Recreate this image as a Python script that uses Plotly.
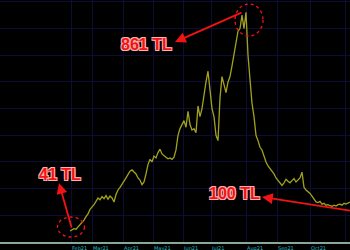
import plotly.graph_objects as go

# x positions (chart time index) and price values (TL)
x_start = 70
x_step = 2
prices = [41, 44, 50, 48, 56, 62, 70, 82, 95, 105,
          122, 130, 140, 152, 165, 158, 170, 162, 174, 160,
          172, 165, 150, 178, 195, 205, 215, 228, 240, 252,
          265, 270, 262, 255, 240, 232, 215, 225, 255, 290,
          310, 300, 322, 315, 335, 348, 330, 322, 318, 312,
          315, 310, 318, 345, 400, 425, 440, 455, 430, 490,
          440, 420, 425, 410, 510, 470, 500, 560, 600, 640,
          560, 500, 470, 400, 380, 540, 620, 590, 560, 600,
          620, 660, 700, 740, 790, 800, 850, 800, 861, 700,
          600, 520, 470, 400, 380, 355, 345, 320, 300, 285,
          275, 268, 255, 240, 232, 220, 212, 222, 235, 228,
          222, 230, 238, 225, 232, 240, 262, 205, 195, 190,
          182, 172, 160, 150, 148, 152, 142, 145, 138, 140,
          136, 134, 138, 135, 140, 142, 138, 145, 142, 146, 150]
xs = [x_start + i * x_step for i in range(len(prices))]

tick_vals = [71, 92, 123, 153, 183, 211, 246, 277, 310, 345]
tick_text = ["Feb21", "Mar21", "Apr21", "May21", "Jun21", "Jul21",
             "Aug21", "Sep21", "Oct21", "Nov21"]

labels = ["41 TL", "861 TL", "100 TL"]

Y_MAX = 907
PLOT_H = 242


def py(pix):
    return (PLOT_H - pix) * Y_MAX / PLOT_H


fig = go.Figure()
fig.add_trace(go.Scatter(x=xs, y=prices, mode="lines",
                         line=dict(color="#a2a21e", width=1.3),
                         hoverinfo="skip"))

red = "#f01414"
shadow = "1px 1px 0 #ffb0b0, -1px -1px 0 #ffb0b0, 1px -1px 0 #ffb0b0, -1px 1px 0 #ffb0b0"
font = dict(family="Liberation Sans, Arial", size=16, color=red, weight="bold", shadow=shadow)

anns = []
for txt, tx, ty in [(labels[0], 60, 174), (labels[1], 146, 44), (labels[2], 234, 193)]:
    anns.append(dict(x=tx, y=py(ty), text=txt, showarrow=False, font=font,
                     xref="x", yref="y"))
for hx, hy, tx, ty in [(59, 183, 72, 229), (175, 42, 243, 12), (262, 197, 352, 211)]:
    anns.append(dict(x=hx, y=py(hy), ax=tx, ay=py(ty), axref="x", ayref="y",
                     xref="x", yref="y", text="", showarrow=True,
                     arrowhead=2, arrowsize=1.2, arrowwidth=1.8, arrowcolor=red,
                     standoff=0, startstandoff=0))
fig.update_layout(annotations=anns)

for cx, cy, rx, ry in [(71, 227, 13.5, 10), (249, 20, 14, 16)]:
    fig.add_shape(type="circle", xref="x", yref="y",
                  x0=cx - rx, x1=cx + rx, y0=py(cy + ry), y1=py(cy - ry),
                  line=dict(color=red, width=1.3, dash="dot"))

fig.update_layout(
    width=350, height=250,
    margin=dict(l=0, r=0, t=0, b=8),
    paper_bgcolor="black", plot_bgcolor="black",
    showlegend=False,
    xaxis=dict(range=[0, 350], tickvals=tick_vals, ticktext=tick_text,
               showgrid=True, gridcolor="#0c0c36", gridwidth=1,
               zeroline=False, showline=True, linecolor="#8aa898", linewidth=2,
               ticks="", ticklabelposition="outside right", tickangle=0,
               automargin=False, ticklabelstandoff=0,
               tickfont=dict(family="DejaVu Sans", size=5, color="#30b8c0"),
               fixedrange=True),
    yaxis=dict(range=[0, Y_MAX], dtick=100, tick0=0, showgrid=True,
               gridcolor="#0c0c36", gridwidth=1, zeroline=False,
               showticklabels=False, automargin=False, fixedrange=True),
)

fig.write_html("out.html")
